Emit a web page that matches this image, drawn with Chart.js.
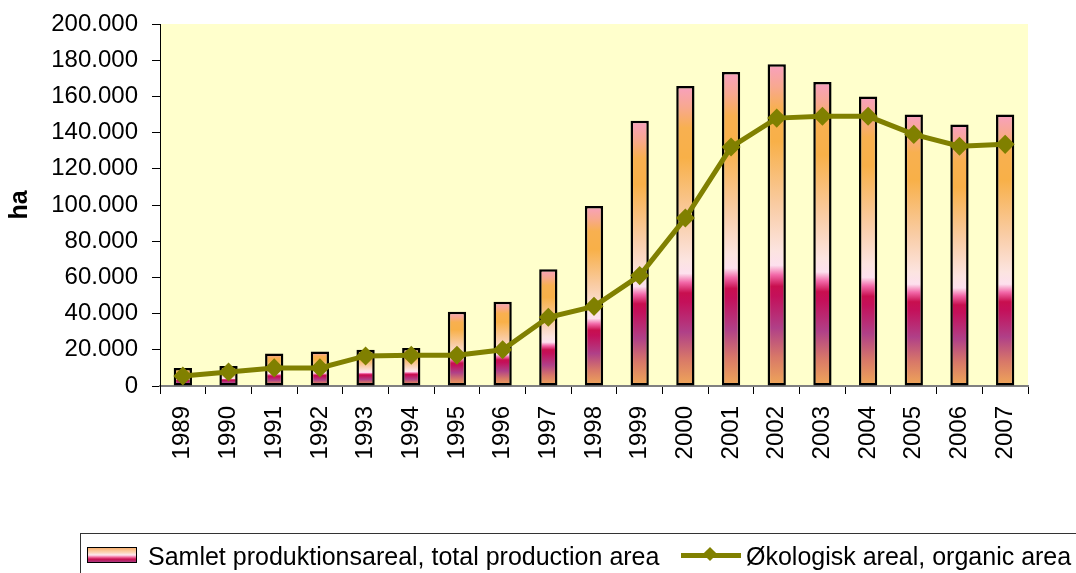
<!DOCTYPE html>
<html>
<head>
<meta charset="utf-8">
<script src="https://cdn.jsdelivr.net/npm/chart.js@4"></script>
<style>
  body { margin: 0; background: #fff; }
  #wrap { position: relative; width: 1076px; height: 573px; overflow: hidden; font-family: "Liberation Sans", Arial, sans-serif; }
  #legend { position: absolute; left: 80px; top: 533px; width: 1010px; height: 50px; border: 1px solid #333; box-sizing: border-box; }
  .sw { position: absolute; left: 6px; top: 13px; width: 48px; height: 14px; border: 1.5px solid #000;
        background: linear-gradient(to bottom, #f8b070 0%, #fbd3b0 30%, #fde8f0 50%, #f070a0 65%, #c8104f 80%, #a83a80 100%); }
  .txt { position: absolute; top: 8px; font-size: 25px; line-height: 28px; color: #000; white-space: nowrap; }
  .ln { position: absolute; left: 600px; top: 19px; width: 60px; height: 5px; background: #808000; }
  .dm { position: absolute; left: 624px; top: 15px; width: 10px; height: 10px; background: #808000; transform: rotate(45deg); }
</style>
</head>
<body>
<div id="wrap">
  <canvas id="c" width="1076" height="573"></canvas>
  <div id="legend">
    <div class="sw"></div>
    <div class="txt" style="left:67px">Samlet produktionsareal, total production area</div>
    <div class="ln"></div><div class="dm"></div>
    <div class="txt" style="left:665px">Økologisk areal, organic area</div>
  </div>
</div>
<script>
const years = ["1989","1990","1991","1992","1993","1994","1995","1996","1997","1998",
               "1999","2000","2001","2002","2003","2004","2005","2006","2007"];
// samlet produktionsareal (ha)
const totalArea = [10000, 11000, 18000, 19000, 20000, 21000, 41000, 46500, 64500, 99500,
                   146500, 165800, 173500, 177800, 168000, 160000, 150000, 144500, 150000];
// økologisk areal (ha)
const organicArea = [5500, 7700, 10000, 10000, 16600, 17000, 17000, 20000, 38000, 44000,
                     61000, 92800, 132000, 148000, 149000, 149000, 139000, 132500, 133500];
const yTicks = { min: 0, max: 200000, step: 20000 };

// gradient stops bottom -> top of each bar
const stops = [
  [0.00, "#f0a858"], [0.09, "#d87868"], [0.18, "#b04088"], [0.28, "#c4105a"],
  [0.31, "#c80f4f"], [0.345, "#f268a8"], [0.375, "#fde0ee"], [0.42, "#fce4e0"],
  [0.56, "#f9cca4"], [0.76, "#f8b048"], [0.86, "#f8b050"], [0.93, "#f8a890"], [1.00, "#f8a0c0"]
];

function barFill(ctx) {
  const chart = ctx.chart;
  if (!chart.chartArea || ctx.type !== "data") return "#f8b048";
  const y = chart.scales.y;
  const bot = y.getPixelForValue(0);
  const top = y.getPixelForValue(ctx.raw);
  if (!isFinite(top) || bot - top < 1) return "#f0a858";
  const g = chart.ctx.createLinearGradient(0, bot, 0, top);
  stops.forEach(s => g.addColorStop(s[0], s[1]));
  return g;
}

const plotBg = {
  id: "plotBg",
  beforeDraw(chart) {
    const { ctx, chartArea: a } = chart;
    ctx.save();
    ctx.fillStyle = "#ffffcc";
    ctx.fillRect(a.left, a.top, a.right - a.left, a.bottom - a.top);
    ctx.restore();
  }
};

const fnt = "'Liberation Sans', Arial, sans-serif";

new Chart(document.getElementById("c"), {
  type: "bar",
  data: {
    labels: years,
    datasets: [
      {
        type: "line",
        label: "Økologisk areal, organic area",
        data: organicArea,
        borderColor: "#808000",
        backgroundColor: "#808000",
        borderWidth: 5,
        tension: 0,
        pointStyle: "rectRot",
        pointRadius: 6,
        pointBackgroundColor: "#808000",
        pointBorderColor: "#808000",
        order: 1
      },
      {
        label: "Samlet produktionsareal, total production area",
        data: totalArea,
        backgroundColor: barFill,
        borderColor: "#000",
        borderWidth: 2.5,
        borderSkipped: false,
        categoryPercentage: 1,
        barPercentage: 0.4,
        order: 2
      }
    ]
  },
  options: {
    responsive: false,
    animation: false,
    layout: { padding: { top: 24, right: 48, left: 0, bottom: 0 } },
    plugins: { legend: { display: false }, tooltip: { enabled: false } },
    scales: {
      x: {
        grid: { offset: true, drawOnChartArea: false, tickLength: 8, color: "#000" },
        border: { color: "#808080", width: 2 },
        ticks: { color: "#000", font: { family: fnt, size: 24 }, minRotation: 90, maxRotation: 90, padding: 12, autoSkip: false },
        afterFit(s) { s.height = 187; s.paddingLeft = 0; s.paddingRight = 0; }
      },
      y: {
        min: yTicks.min,
        max: yTicks.max,
        grid: { drawOnChartArea: false, tickLength: 8, color: "#000" },
        border: { color: "#000", width: 1 },
        ticks: {
          stepSize: yTicks.step,
          color: "#000",
          font: { family: fnt, size: 24 },
          padding: 14,
          callback: v => String(v).replace(/\B(?=(\d{3})+(?!\d))/g, ".")
        },
        title: { display: true, text: "ha", color: "#000", font: { family: fnt, size: 25, weight: "bold" }, padding: { top: 5 } },
        afterFit(s) { s.width = 160; s.paddingTop = 0; s.paddingBottom = 0; }
      }
    }
  },
  plugins: [plotBg]
});
</script>
</body>
</html>
